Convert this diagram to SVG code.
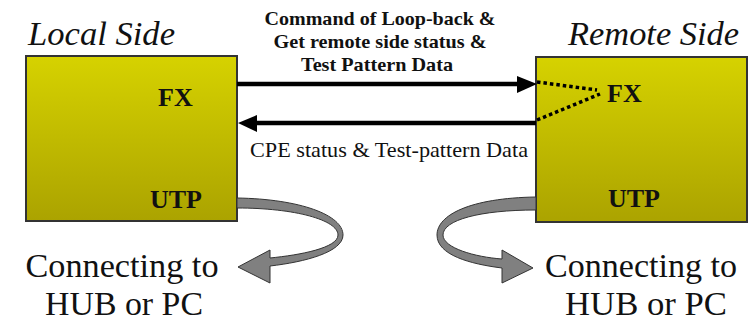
<svg xmlns="http://www.w3.org/2000/svg" width="756" height="323" viewBox="0 0 756 323">
<style>
.title{font-style:italic;font-size:33px;fill:#111}
.port{font-weight:bold;font-size:26px;fill:#111}
.lbl{font-weight:bold;font-size:19px;text-anchor:middle;fill:#111}
.lbl2{font-size:21px;text-anchor:middle;fill:#111}
.big{font-size:34px;text-anchor:middle;fill:#111}
.box{stroke:#333;stroke-width:2}
.wire{stroke:#000;stroke-width:4.5;fill:none}
.dot{stroke:#000;stroke-width:3.5;fill:none;stroke-dasharray:3.5 3}
.ribbon{fill:#808080;stroke:#333;stroke-width:1}
</style>
<defs>
<linearGradient id="g" x1="0" y1="0" x2="0" y2="1">
<stop offset="0" stop-color="#d6d200"/>
<stop offset="1" stop-color="#aba300"/>
</linearGradient>
</defs>
<rect width="756" height="323" fill="#fff"/>
<text class="title" font-family="Liberation Serif" x="28" y="45" textLength="147" lengthAdjust="spacingAndGlyphs">Local Side</text>
<text class="title" font-family="Liberation Serif" x="568" y="45" textLength="171" lengthAdjust="spacingAndGlyphs">Remote Side</text>
<g id="local">
<rect class="box" x="26" y="56" width="211" height="165" fill="url(#g)"/>
<text class="port" font-family="Liberation Serif" x="158" y="106">FX</text>
<text class="port" font-family="Liberation Serif" x="150" y="208">UTP</text>
</g>
<g id="remote">
<rect class="box" x="536" y="57" width="211" height="165" fill="url(#g)"/>
<text class="port" font-family="Liberation Serif" x="607" y="102">FX</text>
<text class="port" font-family="Liberation Serif" x="608" y="207">UTP</text>
</g>
<g id="connectors">
<line class="wire" x1="237" y1="84" x2="520" y2="84"/>
<polygon points="517,76 537,84 517,93" fill="#000"/>
<line class="wire" x1="254" y1="123" x2="536" y2="123"/>
<polygon points="257,115 238,123 257,132" fill="#000"/>
<path class="dot" d="M537,82 L597,90"/>
<path class="dot" d="M537,120 L600,94"/>
<path class="ribbon" d="M237,198 C300,199 343,215 343,235 C343,252 305,262 270,266 L270,283 L238,267 L270,250 L270,258 C300,255 338,248 338,235 C338,220 295,208 237,208 Z"/>
<path class="ribbon" d="M536,197 C470,198 437,215 437,235 C437,255 470,264 502,268 L502,283 L533,268 L502,250 L502,259 C475,257 443,248 443,235 C443,220 480,210 536,210 Z"/>
</g>
<text class="lbl" font-family="Liberation Serif" x="380" y="25" textLength="231" lengthAdjust="spacingAndGlyphs">Command of Loop-back &amp;</text>
<text class="lbl" font-family="Liberation Serif" x="380" y="48" textLength="213" lengthAdjust="spacingAndGlyphs">Get remote side status &amp;</text>
<text class="lbl" font-family="Liberation Serif" x="377" y="71" textLength="152" lengthAdjust="spacingAndGlyphs">Test Pattern Data</text>
<text class="lbl2" font-family="Liberation Serif" x="389" y="157" textLength="278" lengthAdjust="spacingAndGlyphs">CPE status &amp; Test-pattern Data</text>
<text class="big" font-family="Liberation Serif" x="122" y="277" textLength="193" lengthAdjust="spacingAndGlyphs">Connecting to</text>
<text class="big" font-family="Liberation Serif" x="124" y="315" textLength="158" lengthAdjust="spacingAndGlyphs">HUB or PC</text>
<text class="big" font-family="Liberation Serif" x="641" y="277" textLength="192" lengthAdjust="spacingAndGlyphs">Connecting to</text>
<text class="big" font-family="Liberation Serif" x="646" y="315" textLength="162" lengthAdjust="spacingAndGlyphs">HUB or PC</text>
</svg>
